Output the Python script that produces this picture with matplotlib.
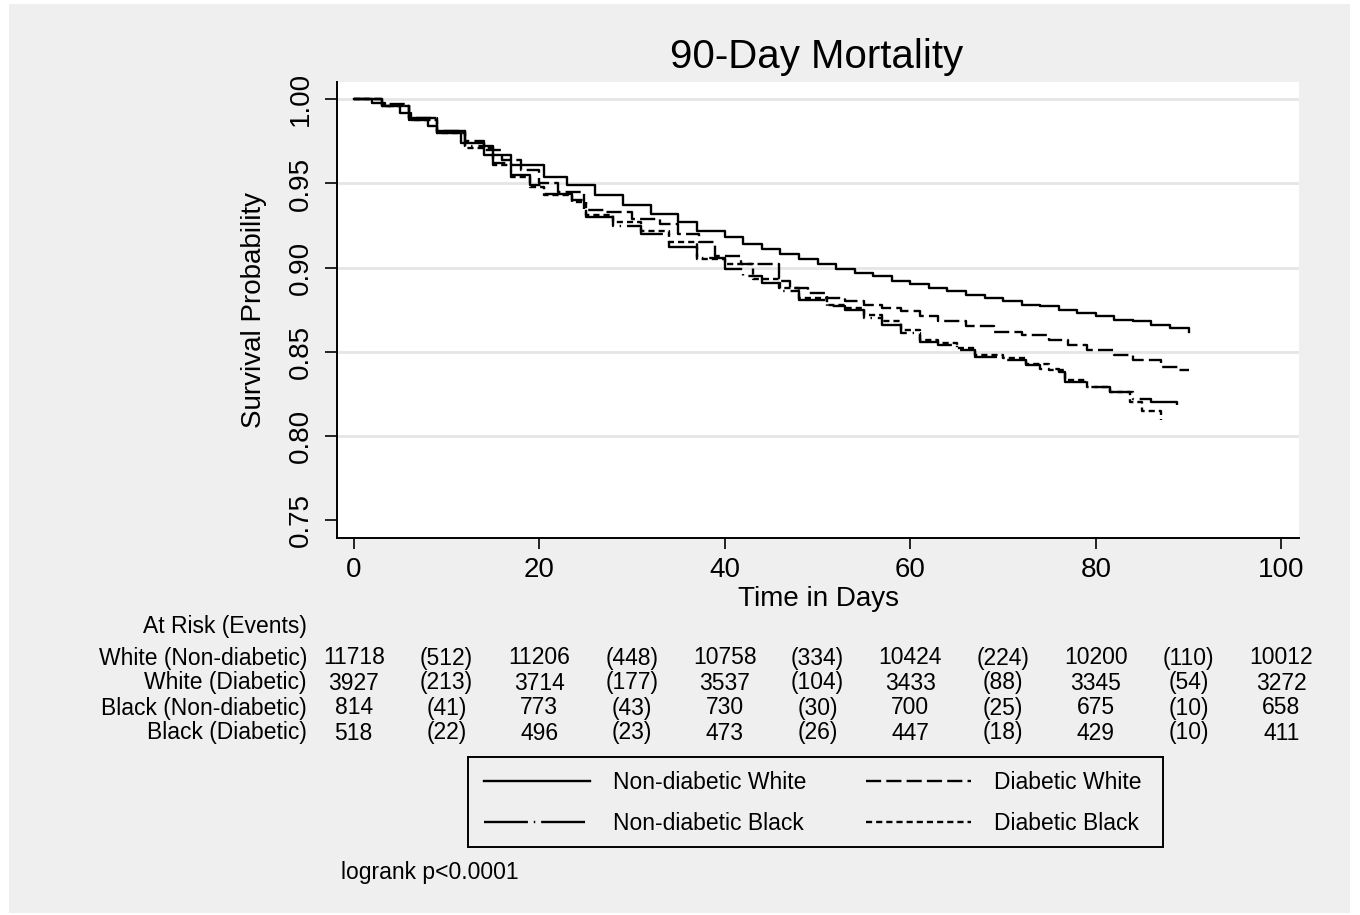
import numpy as np
import matplotlib
matplotlib.use('Agg')
import matplotlib.pyplot as plt
from matplotlib.patches import Rectangle
from matplotlib.transforms import blended_transform_factory

plt.rcParams['font.family'] = ['Liberation Sans', 'DejaVu Sans']

# Kaplan-Meier step points (day, survival)
ndw_days = [0, 2, 3.4, 5, 6.2, 8, 9, 11.6, 14, 17, 20.5, 23, 26, 29, 32, 35, 37, 40, 42, 44, 46, 48, 50,
            52, 54, 56, 58, 60, 62, 64, 66, 68, 70, 72, 74, 76, 78, 80, 82, 84, 86, 88, 90]
ndw_surv = [1.0, 0.998, 0.996, 0.992, 0.988, 0.984, 0.980, 0.974, 0.967, 0.961, 0.954, 0.949, 0.943, 0.937,
            0.932, 0.927, 0.922, 0.918, 0.914, 0.911, 0.908, 0.905, 0.902, 0.899, 0.897, 0.895, 0.892, 0.890,
            0.888, 0.886, 0.884, 0.882, 0.880, 0.878, 0.877, 0.875, 0.873, 0.871, 0.869, 0.868, 0.866, 0.864, 0.862]

dw_days = [0, 3, 6, 9, 12, 14, 16, 18, 20, 22, 24.8, 27, 30, 33, 35, 37.2, 39, 41.7, 45.8, 47, 49, 51, 53,
           55, 57, 59, 61, 63, 66, 69, 72, 75, 77, 79, 82, 84, 87, 89, 90]
dw_surv = [1.0, 0.997, 0.989, 0.981, 0.975, 0.970, 0.964, 0.958, 0.950, 0.945, 0.934, 0.933, 0.929, 0.926,
           0.920, 0.915, 0.907, 0.902, 0.892, 0.888, 0.885, 0.882, 0.880, 0.878, 0.876, 0.874, 0.871, 0.868,
           0.865, 0.862, 0.860, 0.857, 0.854, 0.851, 0.848, 0.845, 0.841, 0.839, 0.839]

ndb_days = [0, 3, 6, 9, 12, 15, 17, 19, 20.5, 23.5, 25, 28, 31, 34, 37, 40, 42, 44, 46, 48, 51, 53, 55,
            57, 59, 61, 63, 65, 67, 70, 72.5, 74, 76, 76.7, 79, 81.5, 84, 86, 88.8]
ndb_surv = [1.0, 0.996, 0.989, 0.981, 0.972, 0.962, 0.955, 0.949, 0.944, 0.940, 0.930, 0.925, 0.920, 0.912,
            0.906, 0.899, 0.895, 0.891, 0.886, 0.881, 0.877, 0.875, 0.870, 0.866, 0.861, 0.856, 0.854, 0.851,
            0.847, 0.845, 0.842, 0.840, 0.838, 0.832, 0.829, 0.826, 0.822, 0.820, 0.8185]

db_days = [0, 3, 6, 9, 12, 15, 17, 19, 20.5, 23.5, 25, 28, 31, 34, 37, 40, 43, 45.8, 48, 51, 53, 55, 57,
           59, 61, 63, 65, 67, 70, 72.5, 75, 76.7, 79, 81.5, 83.7, 85, 87]
db_surv = [1.0, 0.996, 0.988, 0.980, 0.971, 0.961, 0.954, 0.948, 0.943, 0.939, 0.931, 0.927, 0.922, 0.915,
           0.905, 0.902, 0.8935, 0.888, 0.882, 0.878, 0.876, 0.872, 0.868, 0.863, 0.857, 0.855, 0.852, 0.848,
           0.846, 0.843, 0.839, 0.833, 0.829, 0.826, 0.820, 0.815, 0.8095]

# at-risk table
row_names = ['White (Non-diabetic)', 'White (Diabetic)', 'Black (Non-diabetic)', 'Black (Diabetic)']
risk_days = [0, 20, 40, 60, 80, 100]
event_days = [10, 30, 50, 70, 90]
at_risk = [[11718, 11206, 10758, 10424, 10200, 10012],
           [3927, 3714, 3537, 3433, 3345, 3272],
           [814, 773, 730, 700, 675, 658],
           [518, 496, 473, 447, 429, 411]]
events = [[512, 448, 334, 224, 110],
          [213, 177, 104, 88, 54],
          [41, 43, 30, 25, 10],
          [22, 23, 26, 18, 10]]

W, H = 1360, 915
fig = plt.figure(figsize=(W / 100, H / 100), dpi=100, facecolor='white')
fig.patches.append(Rectangle((9 / W, 1 - 913 / H), (1350 - 9) / W, (913 - 4) / H,
                             transform=fig.transFigure, facecolor='#efefef', edgecolor='none', zorder=-10))

ax = fig.add_axes([337 / W, 1 - 538 / H, (1299 - 337) / W, (538 - 82) / H])
ax.set_facecolor('white')

lw = 1.7
l1, = ax.step(ndw_days, ndw_surv, where='post', color='black', lw=lw, label='Non-diabetic White')
l2, = ax.step(dw_days, dw_surv, where='post', color='black', lw=lw, linestyle=(0, (6.4, 2.2)),
              label='Diabetic White')
l3, = ax.step(ndb_days, ndb_surv, where='post', color='black', lw=lw, linestyle=(0, (18.6, 2.5, 0.6, 2.5)),
              label='Non-diabetic Black')
l4, = ax.step(db_days, db_surv, where='post', color='black', lw=lw, linestyle=(0, (2.6, 1.7)),
              label='Diabetic Black')

ax.set_xlim(-1.8, 101.9)
ax.set_ylim(0.7393, 1.0103)
yt = [0.75, 0.80, 0.85, 0.90, 0.95, 1.00]
ax.set_yticks(yt)
ax.set_yticklabels(['%.2f' % v for v in yt], rotation=90, va='center')
ax.set_xticks([0, 20, 40, 60, 80, 100])
for v in yt[1:]:
    ax.axhline(v, color='#e6e6e6', lw=2, zorder=0)

for s in ['top', 'right']:
    ax.spines[s].set_visible(False)
for s in ['left', 'bottom']:
    ax.spines[s].set_linewidth(1.4)
ax.tick_params(axis='y', length=8.5, width=1.2, pad=8, labelsize=20)
ax.tick_params(axis='x', length=8, width=1.2, pad=6, labelsize=20)

ax.set_xlabel('Time in Days', fontsize=20, labelpad=2)
ax.set_ylabel('Survival Probability', fontsize=20, labelpad=15)
fig.text(817 / W, 1 - 57 / H, '90-Day Mortality', fontsize=29, ha='center', va='center')

# at-risk table
tr = blended_transform_factory(ax.transData, fig.transFigure)
fs = 16.5
off = 7.5  # px from row centre to baseline
fig.text(307 / W, 1 - (626 + off) / H, 'At Risk (Events)', fontsize=fs, ha='right', va='baseline')
row_y = [657, 682, 707, 732]
for i, name in enumerate(row_names):
    y = 1 - (row_y[i] + off) / H
    fig.text(307 / W, y, name, fontsize=fs, ha='right', va='baseline')
    for d, n in zip(risk_days, at_risk[i]):
        ax.text(d, y, str(n), transform=tr, fontsize=fs, ha='center', va='baseline')
    for d, n in zip(event_days, events[i]):
        ax.text(d, y, '(%d)' % n, transform=tr, fontsize=fs, ha='center', va='baseline')

# legend, with its box drawn separately
fig.patches.append(Rectangle((468 / W, 1 - 847 / H), (1163 - 468) / W, (847 - 757) / H,
                             transform=fig.transFigure, facecolor='none', edgecolor='black', lw=1.4))
leg = fig.legend([l1, l3, l2, l4], [l1.get_label(), l3.get_label(), l2.get_label(), l4.get_label()],
                 loc='center', bbox_to_anchor=(813 / W, 1 - 803 / H), ncol=2, fontsize=fs,
                 handlelength=4.6, handletextpad=1.0, columnspacing=2.62, labelspacing=0.76,
                 borderpad=0.5, frameon=False)

fig.text(341 / W, 1 - (871 + off) / H, 'logrank p<0.0001', fontsize=fs, ha='left', va='baseline')

fig.savefig('out.png', dpi=100, facecolor=fig.get_facecolor())
